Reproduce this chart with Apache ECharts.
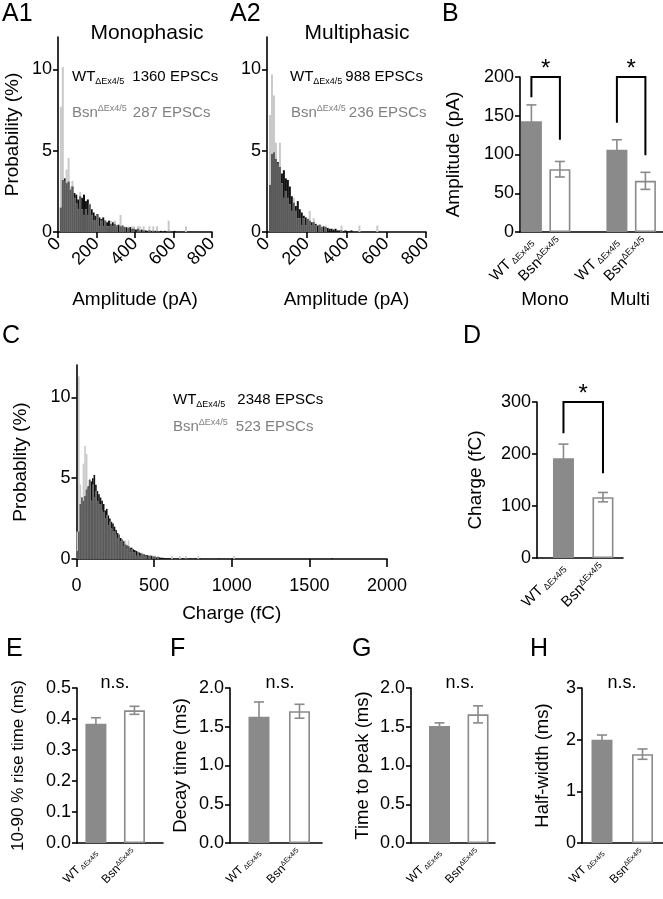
<!DOCTYPE html>
<html><head><meta charset="utf-8">
<script src="https://cdn.jsdelivr.net/npm/echarts@6/dist/echarts.min.js"></script>
<style>html,body{margin:0;padding:0;background:#fff}#c{width:663px;height:899px}</style>
</head><body><div id="c"></div>
<script>
// ---------------- DATA ----------------
// A1 monophasic amplitude histogram (bin starts, pA; bin width 10 pA), probability %
const a1Bins = [10,20,30,40,50,60,70,80,90,100,110,120,130,140,150,160,170,180,190,200,210,220,230,240,250,260,270,280,290,300,310,320,330,340,350,360,370,380,390,400,410,420,430,440,450,460,470,480,490,500,510,520,530,540,550,560,570,580,590,600,610,620,630,640,650,660,670];
const a1WT = [1.5,3.2,3.3,3.0,3.1,2.6,2.8,2.4,2.3,2.0, 2.2,2.1,2.3,1.9,2.0,1.7,1.4,1.2,1.0,1.1, 0.9,0.8,0.9,0.7,0.6,0.7,0.5,0.6,0.5,0.4, 0.45,0.35,0.4,0.3,0.3,0.25,0.3,0.2,0.2,0.15, 0.2,0.1,0.15,0.1,0.1,0.07,0.1,0.07,0.07,0.07, 0.07,0,0.07,0,0.07,0,0.07,0,0,0.07, 0,0,0,0,0,0,0];
const a1Bsn = [7.7,10.15,3.15,3.85,4.55,2.8,3.15,2.1,1.75,1.4, 2.45,1.4,1.05,1.4,1.05,1.75,1.05,0.7,0.7,1.05, 0.35,0.7,0.35,0.7,0.35,0.35,0.7,0.35,0.7,0.35, 0,1.05,0.35,0.35,0,0.35,0,0.35,0.35,0, 0.35,0.35,0,0.35,0,0,0.35,0,0.35,0, 0.35,0,0,0,0,0,0.7,0,0,0, 0,0,0,0,0,0.35,0];
// A2 multiphasic amplitude histogram
const a2Bins = [10,20,30,40,50,60,70,80,90,100,110,120,130,140,150,160,170,180,190,200,210,220,230,240,250,260,270,280,290,300,310,320,330,340,350,360,370,380,390,400,410,420,430,440,450,460,470,480,490,500,510,520,530,540,550,560];
const a2WT = [2.9,4.8,4.9,4.5,4.3,4.0,3.6,3.8,3.3,3.2, 2.8,2.2,1.8,1.6,1.9,1.4,1.2,1.0,0.9,0.8, 0.7,0.6,0.6,0.5,0.4,0.45,0.3,0.35,0.3,0.25, 0.2,0.2,0.15,0.2,0.1,0.1,0.1,0.05,0.1,0.05, 0.05,0.1,0,0,0,0,0,0,0,0, 0,0,0,0,0,0];
const a2Bsn = [7.2,9.7,8.4,5.5,4.2,5.5,3.0,2.1,2.5,2.1, 1.7,1.3,2.1,1.3,0.85,0.85,0.4,0.85,0.4,0.85, 1.3,0.4,0.85,0.4,0,0.4,0.4,0,0.4,0, 0,0,0,0,0,0,0.4,0,0,0, 0,0,0,0,0,0.4,0,0,0,0, 0,0,0,0,0.4,0];
// C charge histogram (bin starts, fC; bin width 10 fC)
const cBins = [0,10,20,30,40,50,60,70,80,90,100,110,120,130,140,150,160,170,180,190,200,210,220,230,240,250,260,270,280,290,300,310,320,330,340,350,360,370,380,390,400,410,420,430,440,450,460,470,480,490,500,510,520,530,540,550,560,570,580,590,600,610,620,650,660,680,700,730,760,780,790,910,1000,1010,1640];
const cWT = [0.5,1.7,3.4,3.8,3.6,3.9,4.3,4.5,4.9,4.8, 5.0,5.2,4.6,4.2,4.0,3.8,3.6,3.4,3.0,3.1, 2.7,2.5,2.3,2.2,2.0,1.8,1.6,1.5,1.3,1.2, 1.1,0.9,0.85,0.8,0.7,0.7,0.6,0.55,0.5,0.45, 0.4,0.35,0.3,0.3,0.25,0.25,0.2,0.2,0.2,0.15, 0.15,0.1,0.13,0.1,0.08,0.08,0.05,0.05,0.04,0.04, 0.04,0,0.04,0.04,0,0.04,0.04,0.04,0.04,0,0.04,0.04,0.04,0,0.04];
const cBsn = [1.7,11.3,4.6,3.8,5.9,7.0,6.5,4.4,4.9,3.6, 4.6,3.8,4.2,3.6,3.4,3.4,3.0,2.9,2.5,2.7, 2.1,2.3,1.9,1.7,1.7,1.5,1.3,1.5,1.1,1.15, 0.8,1.15,0.6,1.15,0.4,0.6,0.4,0.4,0.2,0.4, 0.2,0.2,0.4,0.2,0.2,0,0.2,0.2,0,0.2, 0.2,0,0.2,0,0,0,0,0,0,0, 0,0.19,0,0,0.19,0,0.19,0,0,0.19,0,0,0,0.19,0];
// Bar panels: mean and SEM (WT, Bsn)
const bGroups = ['Mono','Mono','Multi','Multi'];
const bMean = [143, 81, 106, 66];
const bSem  = [21, 10, 13, 11];
const dMean = [192, 117]; const dSem = [27, 9];
const eMean = [0.385, 0.428]; const eSem = [0.019, 0.013];
const fMean = [1.63, 1.70]; const fSem = [0.19, 0.09];
const gMean = [1.51, 1.66]; const gSem = [0.04, 0.11];
const hMean = [2.00, 1.72]; const hSem = [0.09, 0.10];
// significance brackets: [top, left leg end, right leg end]
const bBrackets = [[200, 174, 119], [200, 141, 99]];
const dBracket = [300, 240, 163];
// tick labels
const ampTicks = [0, 200, 400, 600, 800];
const probTicks = [0, 5, 10];
const chargeTicks = [0, 500, 1000, 1500, 2000];

// ---------------- STYLE ----------------
const FONT = '"Liberation Sans", Arial, Helvetica, sans-serif';
const GRAY_TXT = '#808080';
const WT_FILL = '#8a8a8a';
const BSN_EDGE = '#8a8a8a';
const lineStyle = {color:'#000', width:1.6};
const lblWT = '{m|WT}{sub| ΔEx4/5}';
const lblBsn = '{m|Bsn}{sup|ΔEx4/5}';

const grids = [
  {left:58, top:37, width:154, height:195},
  {left:267, top:37, width:159, height:195},
  {left:520, top:77, width:142.5, height:155},
  {left:76.5, top:365, width:310.5, height:194},
  {left:537, top:402, width:86, height:156},
  {left:77, top:688, width:86, height:155},
  {left:230, top:688, width:92, height:155},
  {left:411, top:688, width:84, height:155},
  {left:582, top:688, width:81, height:155}
];

function histX(gi, max, interval, ticks, name, gap, rotate, margin, tickLen){
  return {type:'value', gridIndex:gi, min:0, max:max, interval:interval,
    axisLine:{show:true, onZero:false, lineStyle}, splitLine:{show:false},
    axisTick:{show:true, length:tickLen, lineStyle, customValues:ticks},
    axisLabel:{rotate:rotate, fontSize:18, fontFamily:FONT, color:'#000', margin:margin,
      customValues:ticks, formatter:function(v){ return String(v); }},
    name:name, nameLocation:'middle', nameGap:gap,
    nameTextStyle:{fontSize:19, fontFamily:FONT, color:'#000'}};
}
function barX(gi, min, max, slots, labels, fs){
  return {type:'value', gridIndex:gi, min:min, max:max,
    axisLine:{show:true, onZero:false, lineStyle}, splitLine:{show:false}, axisTick:{show:false},
    axisLabel:{customValues:slots, rotate:45, margin:8, fontFamily:FONT, color:'#000',
      formatter:function(v){ for (let i=0;i<slots.length;i++){ if (Math.abs(v-slots[i])<1e-6) return labels[i]; } return ''; },
      rich:{m:{fontSize:fs, fontFamily:FONT, color:'#000'},
            sub:{fontSize:Math.round(fs*0.6), fontFamily:FONT, color:'#000', verticalAlign:'bottom'},
            sup:{fontSize:Math.round(fs*0.6), fontFamily:FONT, color:'#000', verticalAlign:'top'}}}};
}
function yAx(gi, max, interval, name, gap, digits, nameSize, custom){
  const a = {type:'value', gridIndex:gi, min:0, max:max, interval:interval,
    axisLine:{show:true, onZero:false, lineStyle}, splitLine:{show:false},
    axisTick:{show:true, length:5, lineStyle},
    axisLabel:{fontSize:18, fontFamily:FONT, color:'#000', margin:6,
      formatter:function(v){ if (custom && custom.indexOf(v)<0) return ''; return digits? v.toFixed(digits): String(v);} },
    name:name, nameLocation:'middle', nameGap:gap,
    nameTextStyle:{fontSize:nameSize||19, fontFamily:FONT, color:'#000'}};
  if (custom){ a.axisLabel.customValues = custom; a.axisTick.customValues = custom; }
  return a;
}

const xAxes = [
  histX(0, 800, 200, ampTicks, 'Amplitude (pA)', 58, 45, 9, 6),
  histX(1, 800, 200, ampTicks, 'Amplitude (pA)', 58, 45, 9, 6),
  barX(2, -0.4, 4.6, [0,1,3,4], [lblWT, lblBsn, lblWT, lblBsn], 15),
  histX(3, 2000, 500, chargeTicks, 'Charge (fC)', 45, 0, 18, 8),
  barX(4, -0.67, 1.507, [0,1], [lblWT, lblBsn], 15),
  barX(5, -0.49, 1.74, [0,1], [lblWT, lblBsn], 12),
  barX(6, -0.716, 1.556, [0,1], [lblWT, lblBsn], 12),
  barX(7, -0.74, 1.44, [0,1], [lblWT, lblBsn], 12),
  barX(8, -0.494, 1.506, [0,1], [lblWT, lblBsn], 12)
];
const yAxes = [
  yAx(0, 12, 5, 'Probability (%)', 36, 0, 19, probTicks),
  yAx(1, 12, 5, '', 0, 0, 19, probTicks),
  yAx(2, 200, 50, 'Amplitude (pA)', 57, 0, 19),
  yAx(3, 12, 5, 'Probablity (%)', 46, 0, 19, probTicks),
  yAx(4, 300, 100, 'Charge (fC)', 52, 0, 19),
  yAx(5, 0.5, 0.1, '10-90 % rise time (ms)', 50, 1, 17),
  yAx(6, 2, 0.5, 'Decay time (ms)', 40, 1, 18.5),
  yAx(7, 2, 0.5, 'Time to peak (ms)', 39, 1, 18.5),
  yAx(8, 3, 1, 'Half-width (ms)', 30, 0, 18.5)
];

const series = [];
function addHist(gi, bins, wt, bsn, binW, bw){
  const half = binW/2;
  const mk = (vals, color) => ({type:'bar', xAxisIndex:gi, yAxisIndex:gi, barWidth:bw, barGap:'-100%',
    silent:true, itemStyle:{color:color}, data: bins.map((b,i)=>[b+half, vals[i]])});
  series.push(mk(wt, '#111111'));
  series.push(mk(bsn, '#c9c9c9'));
  series.push(mk(wt.map((v,i)=>Math.min(v, bsn[i])), '#5a5a5a'));
}
addHist(0, a1Bins, a1WT, a1Bsn, 10, 2);
addHist(1, a2Bins, a2WT, a2Bsn, 10, 2);
addHist(3, cBins, cWT, cBsn, 10, 1.6);

function addBars(gi, slots, means, sems){
  series.push({type:'bar', xAxisIndex:gi, yAxisIndex:gi, barWidth:21, silent:true, z:2,
    data: means.map((m,i)=>({value:[slots[i], m],
      itemStyle: (i%2===0) ? {color:WT_FILL} : {color:'#fff', borderColor:BSN_EDGE, borderWidth:1.6}}))});
  series.push({type:'custom', xAxisIndex:gi, yAxisIndex:gi, silent:true, z:3, clip:false,
    encode:{x:0, y:1},
    data: means.map((m,i)=>[slots[i], m, sems[i]]),
    renderItem:function(params, api){
      const x = api.value(0), m = api.value(1), s = api.value(2);
      const t = api.coord([x, m+s]), b = api.coord([x, m-s]);
      const st = {stroke:'#8a8a8a', lineWidth:1.6};
      return {type:'group', children:[
        {type:'line', shape:{x1:t[0], y1:t[1], x2:b[0], y2:b[1]}, style:st},
        {type:'line', shape:{x1:t[0]-5, y1:t[1], x2:t[0]+5, y2:t[1]}, style:st},
        {type:'line', shape:{x1:b[0]-5, y1:b[1], x2:b[0]+5, y2:b[1]}, style:st}]};
    }});
}
addBars(2, [0,1,3,4], bMean, bSem);
addBars(4, [0,1], dMean, dSem);
addBars(5, [0,1], eMean, eSem);
addBars(6, [0,1], fMean, fSem);
addBars(7, [0,1], gMean, gSem);
addBars(8, [0,1], hMean, hSem);

function addBrackets(gi, items){
  series.push({type:'custom', xAxisIndex:gi, yAxisIndex:gi, silent:true, z:4, clip:false,
    encode:{x:[0,1], y:[2,3,4]},
    data: items,
    renderItem:function(params, api){
      const x1=api.value(0), x2=api.value(1), top=api.value(2), l=api.value(3), r=api.value(4);
      const p1=api.coord([x1,l]), p2=api.coord([x1,top]), p3=api.coord([x2,top]), p4=api.coord([x2,r]);
      return {type:'group', children:[
        {type:'polyline', shape:{points:[p1,p2,p3,p4]}, style:{stroke:'#000', lineWidth:2, fill:null}},
        {type:'text', x:(p2[0]+p3[0])/2, y:p2[1]-8, style:{text:'*', fontSize:24, fontFamily:FONT, fill:'#000', align:'center', verticalAlign:'middle'}}]};
    }});
}
addBrackets(2, [[0,1].concat(bBrackets[0]), [3,4].concat(bBrackets[1])]);
addBrackets(4, [[0,1].concat(dBracket)]);

// ---------------- TEXT ANNOTATIONS ----------------
function txt(x, y, text, size, opt){
  const st = Object.assign({text:text, fontSize:size, fontFamily:FONT, fill:'#000',
    align:'left', verticalAlign:'middle'}, opt||{});
  return {type:'text', x:x, y:y, silent:true, style:st};
}
function legend(x, y, name, script, count, color, gap, sup){
  return txt(x, y, '{m|'+name+'}{s|'+script+'}{g|'+count+'}', 15, {fill:color, rich:{
    m:{fontSize:15, fontFamily:FONT, fill:color, color:color, lineHeight:18},
    s:{fontSize:9, fontFamily:FONT, fill:color, color:color, verticalAlign: sup?'top':'bottom', lineHeight: sup?18:14},
    g:{fontSize:15, fontFamily:FONT, fill:color, color:color, lineHeight:18, padding:[0,0,0,gap]}}});
}
const graphics = [
  txt(2, 14, 'A1', 25), txt(230, 14, 'A2', 25), txt(442, 14, 'B', 25),
  txt(2, 336, 'C', 25), txt(463, 336, 'D', 25),
  txt(6, 649, 'E', 25), txt(170, 649, 'F', 25), txt(352, 649, 'G', 25), txt(530, 649, 'H', 25),
  txt(147, 33, 'Monophasic', 21, {align:'center'}),
  txt(357, 33, 'Multiphasic', 21, {align:'center'}),
  legend(72, 77, 'WT', 'ΔEx4/5', '1360 EPSCs', '#000', 8, false),
  legend(72, 113, 'Bsn', 'ΔEx4/5', '287 EPSCs', GRAY_TXT, 6, true),
  legend(290, 77, 'WT', 'ΔEx4/5', '988 EPSCs', '#000', 3, false),
  legend(291, 113, 'Bsn', 'ΔEx4/5', '236 EPSCs', GRAY_TXT, 3, true),
  legend(173, 400, 'WT', 'ΔEx4/5', '2348 EPSCs', '#000', 12, false),
  legend(173, 427, 'Bsn', 'ΔEx4/5', '523 EPSCs', GRAY_TXT, 8, true),
  txt(545, 300, 'Mono', 19, {align:'center'}),
  txt(630, 300, 'Multi', 19, {align:'center'}),
  txt(115, 683, 'n.s.', 18, {align:'center'}),
  txt(280, 683, 'n.s.', 18, {align:'center'}),
  txt(460, 683, 'n.s.', 18, {align:'center'}),
  txt(622, 683, 'n.s.', 18, {align:'center'})
];

const chart = echarts.init(document.getElementById('c'));
chart.setOption({
  animation:false, backgroundColor:'#fff',
  textStyle:{fontFamily:FONT},
  grid: grids, xAxis: xAxes, yAxis: yAxes, series: series, graphic: graphics
});
</script></body></html>
